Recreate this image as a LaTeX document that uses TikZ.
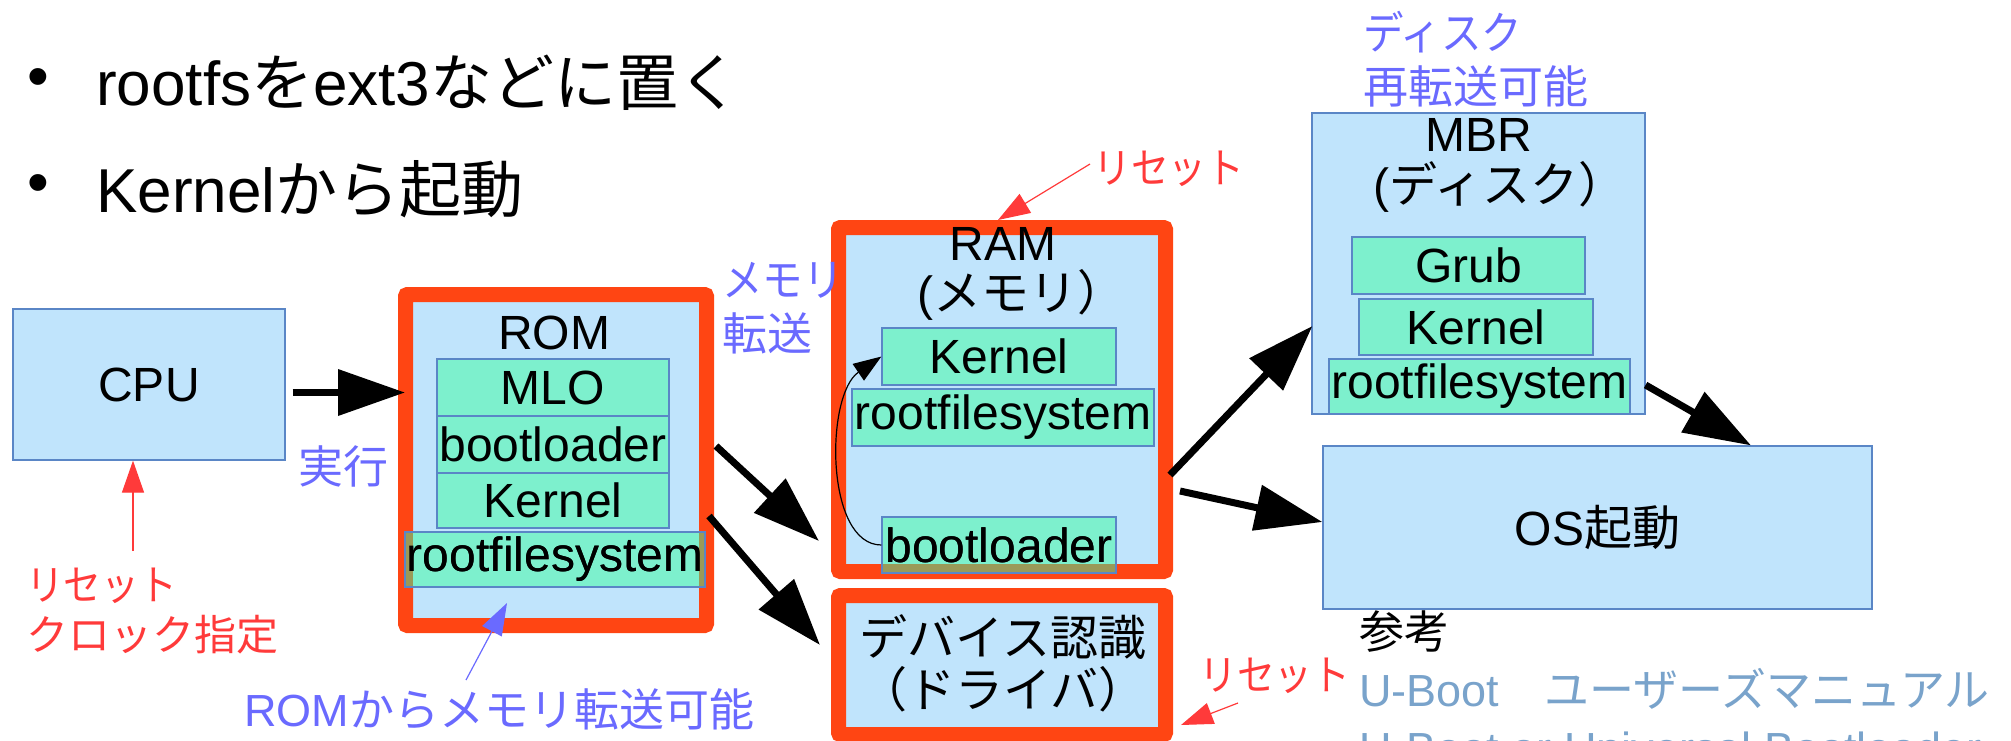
\documentclass[tikz,border=0pt]{standalone}
\usepackage{fontspec}
\setmainfont{Liberation Sans}
\newfontfamily\jp{Noto Sans CJK JP}
\newfontfamily\jpn[FakeStretch=0.9]{Noto Sans CJK JP}
\usetikzlibrary{arrows.meta}
\definecolor{paleblue}{HTML}{C0E4FC}
\definecolor{bordblue}{HTML}{5A86C6}
\definecolor{mint}{HTML}{7DF0CD}
\definecolor{framered}{HTML}{FF4513}
\definecolor{annred}{HTML}{FF3A3A}
\definecolor{annblue}{HTML}{6A6AFF}
\definecolor{refblue}{HTML}{79A3CB}
\definecolor{olivemix}{HTML}{9A9A58}
\newcommand\lblsize{\fontsize{48}{52}\selectfont}
\newcommand\annsize{\fontsize{45}{50}\selectfont}
\newcommand\redsize{\fontsize{42}{48}\selectfont}
\newcommand\bulsize{\fontsize{62}{68}\selectfont}
\begin{document}
\begin{tikzpicture}[x=1pt,y=-1pt,
  bluebox/.style={draw=bordblue, fill=paleblue, line width=1.2pt, inner sep=0pt, font=\lblsize},
  greenbox/.style={draw=bordblue, fill=mint, line width=1.2pt, inner sep=0pt, font=\lblsize},
  frame/.style={draw=framered, fill=paleblue, line width=15pt, rounded corners=2pt, inner sep=0pt},
  title/.style={inner sep=0pt, font=\lblsize},
  bluetxt/.style={inner sep=0pt, anchor=west, text=annblue, font=\annsize\jp},
  redtxt/.style={inner sep=0pt, anchor=west, text=annred, font=\redsize\jp},
  bigarrow/.style={draw=black, line width=7pt, -{Triangle[length=67pt,width=45pt]}},
  redarrow/.style={draw=annred, line width=1.2pt, -{Triangle[length=32pt,width=22pt]}},
  bluearrow/.style={draw=annblue, line width=1.2pt, -{Triangle[length=32pt,width=22pt]}},
  curvearrow/.style={draw=black, line width=1.2pt, -{Triangle[length=28pt,width=20pt]}}
]
\useasboundingbox (0,0) rectangle (2011,740);
\clip (0,0) rectangle (2011,740);

% bullets
\node[inner sep=0pt, font=\bulsize] (b1) at (38,83) {•};
\node[inner sep=0pt, anchor=west, font=\bulsize] (t1) at (96,83) {rootfs{\jp を}ext3{\jp などに置く}};
\node[inner sep=0pt, font=\bulsize] (b2) at (38,189) {•};
\node[inner sep=0pt, anchor=west, font=\bulsize] (t2) at (96,189) {Kernel{\jp から起動}};

% CPU
\node[bluebox, minimum width=272pt, minimum height=151pt] (cpu) at (149,384.5) {CPU};

% ROM frame
\node[frame, minimum width=301pt, minimum height=331pt] (rom) at (556,460) {};
\node[title] (romt) at (554,333) {ROM};
\node[greenbox, minimum width=232pt, minimum height=57pt] (mlo) at (553,387.5) {MLO};
\node[greenbox, minimum width=232pt, minimum height=57pt] (boot1) at (553,444.5) {bootloader};
\node[greenbox, minimum width=232pt, minimum height=55pt] (kern1) at (553,500.5) {Kernel};
\node[greenbox, minimum width=300pt, minimum height=55pt] (rfs1) at (555,559.5) {rootfilesystem};
\fill[olivemix] (405.6,532.6) rectangle (413,586.4);
\fill[olivemix] (699,532.6) rectangle (704.4,586.4);
\node[title] at (rfs1) {rootfilesystem};

% RAM frame
\node[frame, minimum width=327pt, minimum height=344pt] (ram) at (1002,399.5) {};
\node[title] (ramt) at (1003,244) {RAM};
\node[title] (ramt2) at (1021,295) {({\jp メモリ）}};
\node[greenbox, minimum width=234pt, minimum height=57pt] (kern2) at (999,356.5) {Kernel};
\node[greenbox, minimum width=302pt, minimum height=57pt] (rfs2) at (1003,417.5) {rootfilesystem};
\node[greenbox, minimum width=234pt, minimum height=56pt] (boot2) at (999,545) {bootloader};
\fill[olivemix] (882.6,564) rectangle (1115.4,572.4);
\node[title] at (boot2) {bootloader};
\draw[curvearrow] (boot2.west) .. controls (825,545) and (825,395) .. (kern2.west);

% device frame
\node[frame, minimum width=327pt, minimum height=139pt] (dev) at (1002,665) {};
\node[title] (devt) at (1003,637) {\jp デバイス認識};
\node[title] (devt2) at (1003,689) {\jp （ドライバ）};

% MBR
\node[bluebox, minimum width=333pt, minimum height=301pt] (mbr) at (1478.5,263.5) {};
\node[title] (mbrt) at (1479,135) {MBR};
\node[title] (mbrt2) at (1500,187) {({\jp ディスク）}};
\node[greenbox, minimum width=233pt, minimum height=57pt] (grub) at (1468.5,265.5) {Grub};
\node[greenbox, minimum width=234pt, minimum height=56pt] (kern3) at (1476,327) {Kernel};
\node[greenbox, minimum width=301pt, minimum height=55pt] (rfs3) at (1479.5,386.5) {rootfilesystem};

% OS
\node[bluebox, minimum width=549pt, minimum height=163pt] (os) at (1597.5,527.5) {OS{\jp 起動}};

% annotations
\node[bluetxt] (exec) at (298,466) {実行};
\node[bluetxt, font=\annsize\jpn] (mt1) at (722,280) {メモリ};
\node[bluetxt] (mt2) at (722,333) {転送};
\node[bluetxt] (romnote) at (244,709) {{\rmfamily ROM}からメモリ転送可能};
\node[bluetxt, font=\annsize\jpn] (dk1) at (1363,32) {ディスク};
\node[bluetxt] (dk2) at (1363,86) {再転送可能};
\node[redtxt, font=\redsize\jpn] (rs1) at (26,586) {リセット};
\node[redtxt] (rs1b) at (26,635) {クロック指定};
\node[redtxt, font=\redsize\jpn] (rs2) at (1093,169) {リセット};
\node[redtxt, font=\redsize\jpn] (rs3) at (1199,676) {リセット};
\node[inner sep=0pt, anchor=west, font=\annsize\jp] (ref) at (1359,632) {参考};
\node[inner sep=0pt, anchor=west, font=\annsize, text=refblue] (ref1) at (1359,689) {U-Boot{\jp 　ユーザーズマニュアル}};
\node[inner sep=0pt, anchor=west, font=\annsize, text=refblue] (ref2) at (1359,748) {U-Boot or Universal Bootloader};

% connectors
\draw[bigarrow] ([shift={(7pt,-8pt)}]cpu.east) -- ([shift={(7pt,67.5pt)}]rom.west);
\draw[bigarrow] ([shift={(2pt,14pt)}]rom.east) -- ([shift={(-12pt,-141.5pt)}]ram.west);
\draw[bigarrow] ([shift={(-5pt,-56pt)}]rom.east) -- ([shift={(-11pt,20pt)}]dev.west);
\draw[bigarrow] ([shift={(-3pt,-75.5pt)}]ram.east) -- ([shift={(1pt,-62.5pt)}]mbr.west);
\draw[bigarrow] ([shift={(7pt,-91.5pt)}]ram.east) -- ([shift={(0pt,5.5pt)}]os.west);
\draw[bigarrow] ([shift={(0pt,-121.5pt)}]mbr.east) -- ([shift={(153.5pt,0pt)}]os.north);

\coordinate (r1s) at (133,551);
\draw[redarrow] (r1s) -- (cpu.south -| r1s);
\coordinate (r2s) at (1090,164);
\draw[redarrow] (r2s) -- ([xshift=-4pt]ram.north);
\coordinate (r3s) at (1238,703);
\draw[redarrow] (r3s) -- ([shift={(8pt,-60pt)}]dev.east);
\coordinate (bls) at (466,680);
\draw[bluearrow] (bls) -- (507,603);
\end{tikzpicture}
\end{document}
